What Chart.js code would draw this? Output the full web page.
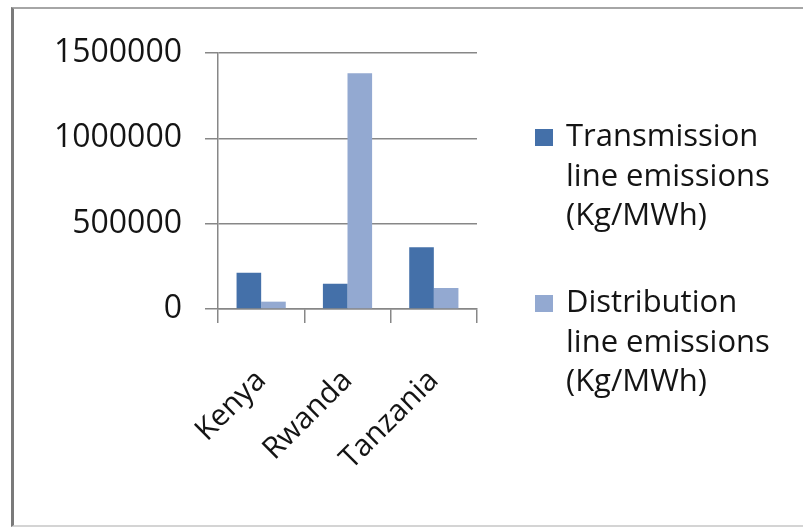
<!DOCTYPE html>
<html>
<head>
<meta charset="utf-8">
<script src="https://cdn.jsdelivr.net/npm/chart.js@4.4.1/dist/chart.umd.min.js"></script>
<style>
  html, body { margin: 0; padding: 0; background: #fff; }
  #wrap { position: relative; width: 803px; height: 527px; overflow: hidden; }
  #frame {
    position: absolute; left: 11px; top: 7px; width: 820px; height: 516px;
    border-left: 3px solid #7a7a7a; border-top: 2px solid #a6a6a6; border-bottom: 2px solid #d4d4d4;
  }
  #emissions { position: absolute; left: 0; top: 0; }
</style>
</head>
<body>
<div id="wrap">
  <div id="frame"></div>
  <canvas id="emissions" width="803" height="527"></canvas>
</div>
<script>
// countries and emissions per line type
const countries = ['Kenya', 'Rwanda', 'Tanzania'];
const transmission = [212000, 148000, 362000];
const distribution = [43000, 1382000, 123000];
const seriesNames = [
    ['Transmission', 'line emissions', '(Kg/MWh)'],
    ['Distribution', 'line emissions', '(Kg/MWh)']
];
const seriesColors = ['#4470a9', '#93a9d1'];
const yTicks = [0, 500000, 1000000, 1500000];

const FONT = '"Open Sans"';
const axisGray = '#878787';

// legend drawn beside the plot with each name wrapped over three lines
const sideLegend = {
    id: 'sideLegend',
    afterDraw(chart) {
        const ctx = chart.ctx;
        const baselines = [146, 312];
        ctx.save();
        ctx.font = '31px ' + FONT;
        ctx.textBaseline = 'alphabetic';
        ctx.textAlign = 'left';
        chart.data.datasets.forEach((ds, i) => {
            ctx.fillStyle = ds.backgroundColor;
            ctx.fillRect(535, baselines[i] - 17, 18, 17);
            ctx.fillStyle = '#141414';
            seriesNames[i].forEach((line, j) => {
                ctx.fillText(line, 566, baselines[i] + j * 39.5);
            });
        });
        ctx.restore();
    }
};

new Chart(document.getElementById('emissions'), {
    type: 'bar',
    data: {
        labels: countries,
        datasets: [{
            label: seriesNames[0].join(' '),
            data: transmission,
            backgroundColor: seriesColors[0]
        }, {
            label: seriesNames[1].join(' '),
            data: distribution,
            backgroundColor: seriesColors[1]
        }]
    },
    options: {
        responsive: false,
        animation: false,
        layout: { padding: { left: 0, top: 53, right: 326, bottom: 0 } },
        datasets: { bar: { categoryPercentage: 0.57, barPercentage: 1 } },
        scales: {
            x: {
                border: { color: axisGray, width: 1.5 },
                grid: { offset: true, drawOnChartArea: false, tickLength: 14, color: axisGray, lineWidth: 1.5 },
                ticks: {
                    color: '#141414',
                    font: { family: FONT, size: 30 },
                    minRotation: 45, maxRotation: 45,
                    padding: 40
                },
                afterFit: s => { s.height = 218; }
            },
            y: {
                min: 0,
                max: 1500000,
                border: { color: axisGray, width: 1.5 },
                grid: { tickLength: 13, color: axisGray, lineWidth: 1.5 },
                afterBuildTicks: s => { s.ticks = yTicks.map(v => ({ value: v })); },
                ticks: {
                    color: '#141414',
                    font: { family: FONT, size: 32 },
                    padding: 23,
                    callback: v => String(v)
                },
                afterFit: s => { s.width = 218; }
            }
        },
        plugins: {
            legend: { display: false },
            tooltip: { enabled: false }
        }
    },
    plugins: [sideLegend]
});
</script>
</body>
</html>
